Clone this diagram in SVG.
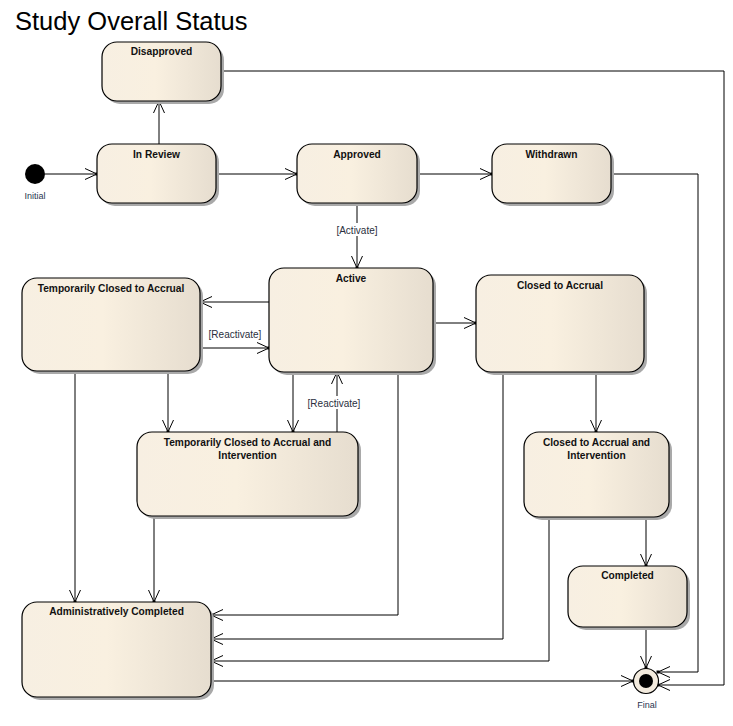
<svg xmlns="http://www.w3.org/2000/svg" width="733" height="726" viewBox="0 0 733 726">
<style>
.node{fill:url(#g);stroke:#000;stroke-width:1.2}
.shadow{fill:#a9a9a9}
.nl{font-family:"Liberation Sans",Arial,sans-serif;font-size:10.2px;font-weight:bold;text-anchor:middle;fill:#111}
.el{font-family:"Liberation Sans",Arial,sans-serif;font-size:10px;text-anchor:middle;fill:#2a2f40}
.sl{font-family:"Liberation Sans",Arial,sans-serif;font-size:9px;text-anchor:middle;fill:#2a3550}
.c{fill:none;stroke:#000;stroke-width:1;marker-end:url(#a)}
.lb{fill:#fff}
</style>
<defs>
<linearGradient id="g" x1="0" y1="0" x2="1" y2="0">
<stop offset="0" stop-color="#f7efe2"/>
<stop offset="0.45" stop-color="#f9f0e0"/>
<stop offset="1" stop-color="#e6ddcf"/>
</linearGradient>
<marker id="a" markerUnits="userSpaceOnUse" viewBox="0 0 13 12" refX="12" refY="6" markerWidth="13" markerHeight="12" orient="auto" overflow="visible">
<path d="M0,0.5 L12,6 L0,11.5" fill="none" stroke="#000" stroke-width="1"/>
<rect x="10.5" y="4.5" width="3" height="3" fill="#000"/>
</marker>
</defs>
<rect width="733" height="726" fill="#fff"/>
<text x="15" y="30" font-family="'Liberation Sans',Arial,sans-serif" font-size="25.5" fill="#000">Study Overall Status</text>

<g id="connectors">
<path class="c" d="M45,174 L97,174"/>
<path class="c" d="M159,144 L159,101"/>
<path class="c" d="M216,174 L297,174"/>
<path class="c" d="M417,174 L492,174"/>
<path class="c" d="M357,203 L357,268"/>
<path class="c" d="M269,302 L200,302"/>
<path class="c" d="M200,348 L269,348"/>
<path class="c" d="M433,323 L476,323"/>
<path class="c" d="M75,371 L75,602"/>
<path class="c" d="M168,371 L168,432"/>
<path class="c" d="M293,372 L293,432"/>
<path class="c" d="M337,432 L337,372"/>
<path class="c" d="M398,372 L398,615 L211,615"/>
<path class="c" d="M154,516 L154,602"/>
<path class="c" d="M503,372 L503,639 L211,639"/>
<path class="c" d="M596,372 L596,432"/>
<path class="c" d="M549,517 L549,661 L211,661"/>
<path class="c" d="M646,517 L646,566"/>
<path class="c" d="M646,627 L646,668"/>
<path class="c" d="M211,681 L633,681"/>
<path class="c" d="M611,174 L698,174 L698,672 L658,672"/>
<path class="c" d="M221,71 L724,71 L724,685 L658,685"/>
<rect class="lb" x="334" y="223" width="46" height="13"/>
<text class="el" x="357" y="234">[Activate]</text>
<text class="el" x="235" y="338">[Reactivate]</text>
<rect class="lb" x="306" y="396" width="57" height="13"/>
<text class="el" x="334" y="407">[Reactivate]</text>
</g>

<g id="initial">
<circle cx="35" cy="174" r="10" fill="#000"/>
<text class="sl" x="35" y="199">Initial</text>
</g>

<g id="final">
<circle cx="646" cy="681" r="12.5" fill="#f3ebde" stroke="#000" stroke-width="1.2"/>
<circle cx="646" cy="681" r="7" fill="#000"/>
<text class="sl" x="647" y="708">Final</text>
</g>

<g id="disapproved">
<rect class="shadow" x="105" y="45" width="119" height="59" rx="15"/>
<rect class="node" x="102" y="42" width="119" height="59" rx="15"/>
<text class="nl" x="161.5" y="55">Disapproved</text>
</g>
<g id="inreview">
<rect class="shadow" x="100" y="147" width="119" height="59" rx="15"/>
<rect class="node" x="97" y="144" width="119" height="59" rx="15"/>
<text class="nl" x="156.5" y="158">In Review</text>
</g>
<g id="approved">
<rect class="shadow" x="300" y="147" width="120" height="59" rx="15"/>
<rect class="node" x="297" y="144" width="120" height="59" rx="15"/>
<text class="nl" x="357" y="158">Approved</text>
</g>
<g id="withdrawn">
<rect class="shadow" x="495" y="147" width="119" height="59" rx="15"/>
<rect class="node" x="492" y="144" width="119" height="59" rx="15"/>
<text class="nl" x="551.5" y="158">Withdrawn</text>
</g>
<g id="active">
<rect class="shadow" x="272" y="271" width="164" height="104" rx="15"/>
<rect class="node" x="269" y="268" width="164" height="104" rx="15"/>
<text class="nl" x="351" y="282">Active</text>
</g>
<g id="tempclosed">
<rect class="shadow" x="25" y="281" width="178" height="93" rx="15"/>
<rect class="node" x="22" y="278" width="178" height="93" rx="15"/>
<text class="nl" x="111" y="292">Temporarily Closed to Accrual</text>
</g>
<g id="closedaccrual">
<rect class="shadow" x="479" y="278" width="168" height="97" rx="15"/>
<rect class="node" x="476" y="275" width="168" height="97" rx="15"/>
<text class="nl" x="560" y="289">Closed to Accrual</text>
</g>
<g id="tempclosedint">
<rect class="shadow" x="140" y="435" width="221" height="84" rx="15"/>
<rect class="node" x="137" y="432" width="221" height="84" rx="15"/>
<text class="nl" x="247.5" y="445.5">Temporarily Closed to Accrual and</text>
<text class="nl" x="247.5" y="458.5">Intervention</text>
</g>
<g id="closedint">
<rect class="shadow" x="527" y="435" width="145" height="85" rx="15"/>
<rect class="node" x="524" y="432" width="145" height="85" rx="15"/>
<text class="nl" x="596.5" y="445.5">Closed to Accrual and</text>
<text class="nl" x="596.5" y="458.5">Intervention</text>
</g>
<g id="completed">
<rect class="shadow" x="571" y="569" width="119" height="61" rx="15"/>
<rect class="node" x="568" y="566" width="119" height="61" rx="15"/>
<text class="nl" x="627.5" y="579">Completed</text>
</g>
<g id="admincompleted">
<rect class="shadow" x="25" y="605" width="189" height="95" rx="15"/>
<rect class="node" x="22" y="602" width="189" height="95" rx="15"/>
<text class="nl" x="116.5" y="615">Administratively Completed</text>
</g>
</svg>
